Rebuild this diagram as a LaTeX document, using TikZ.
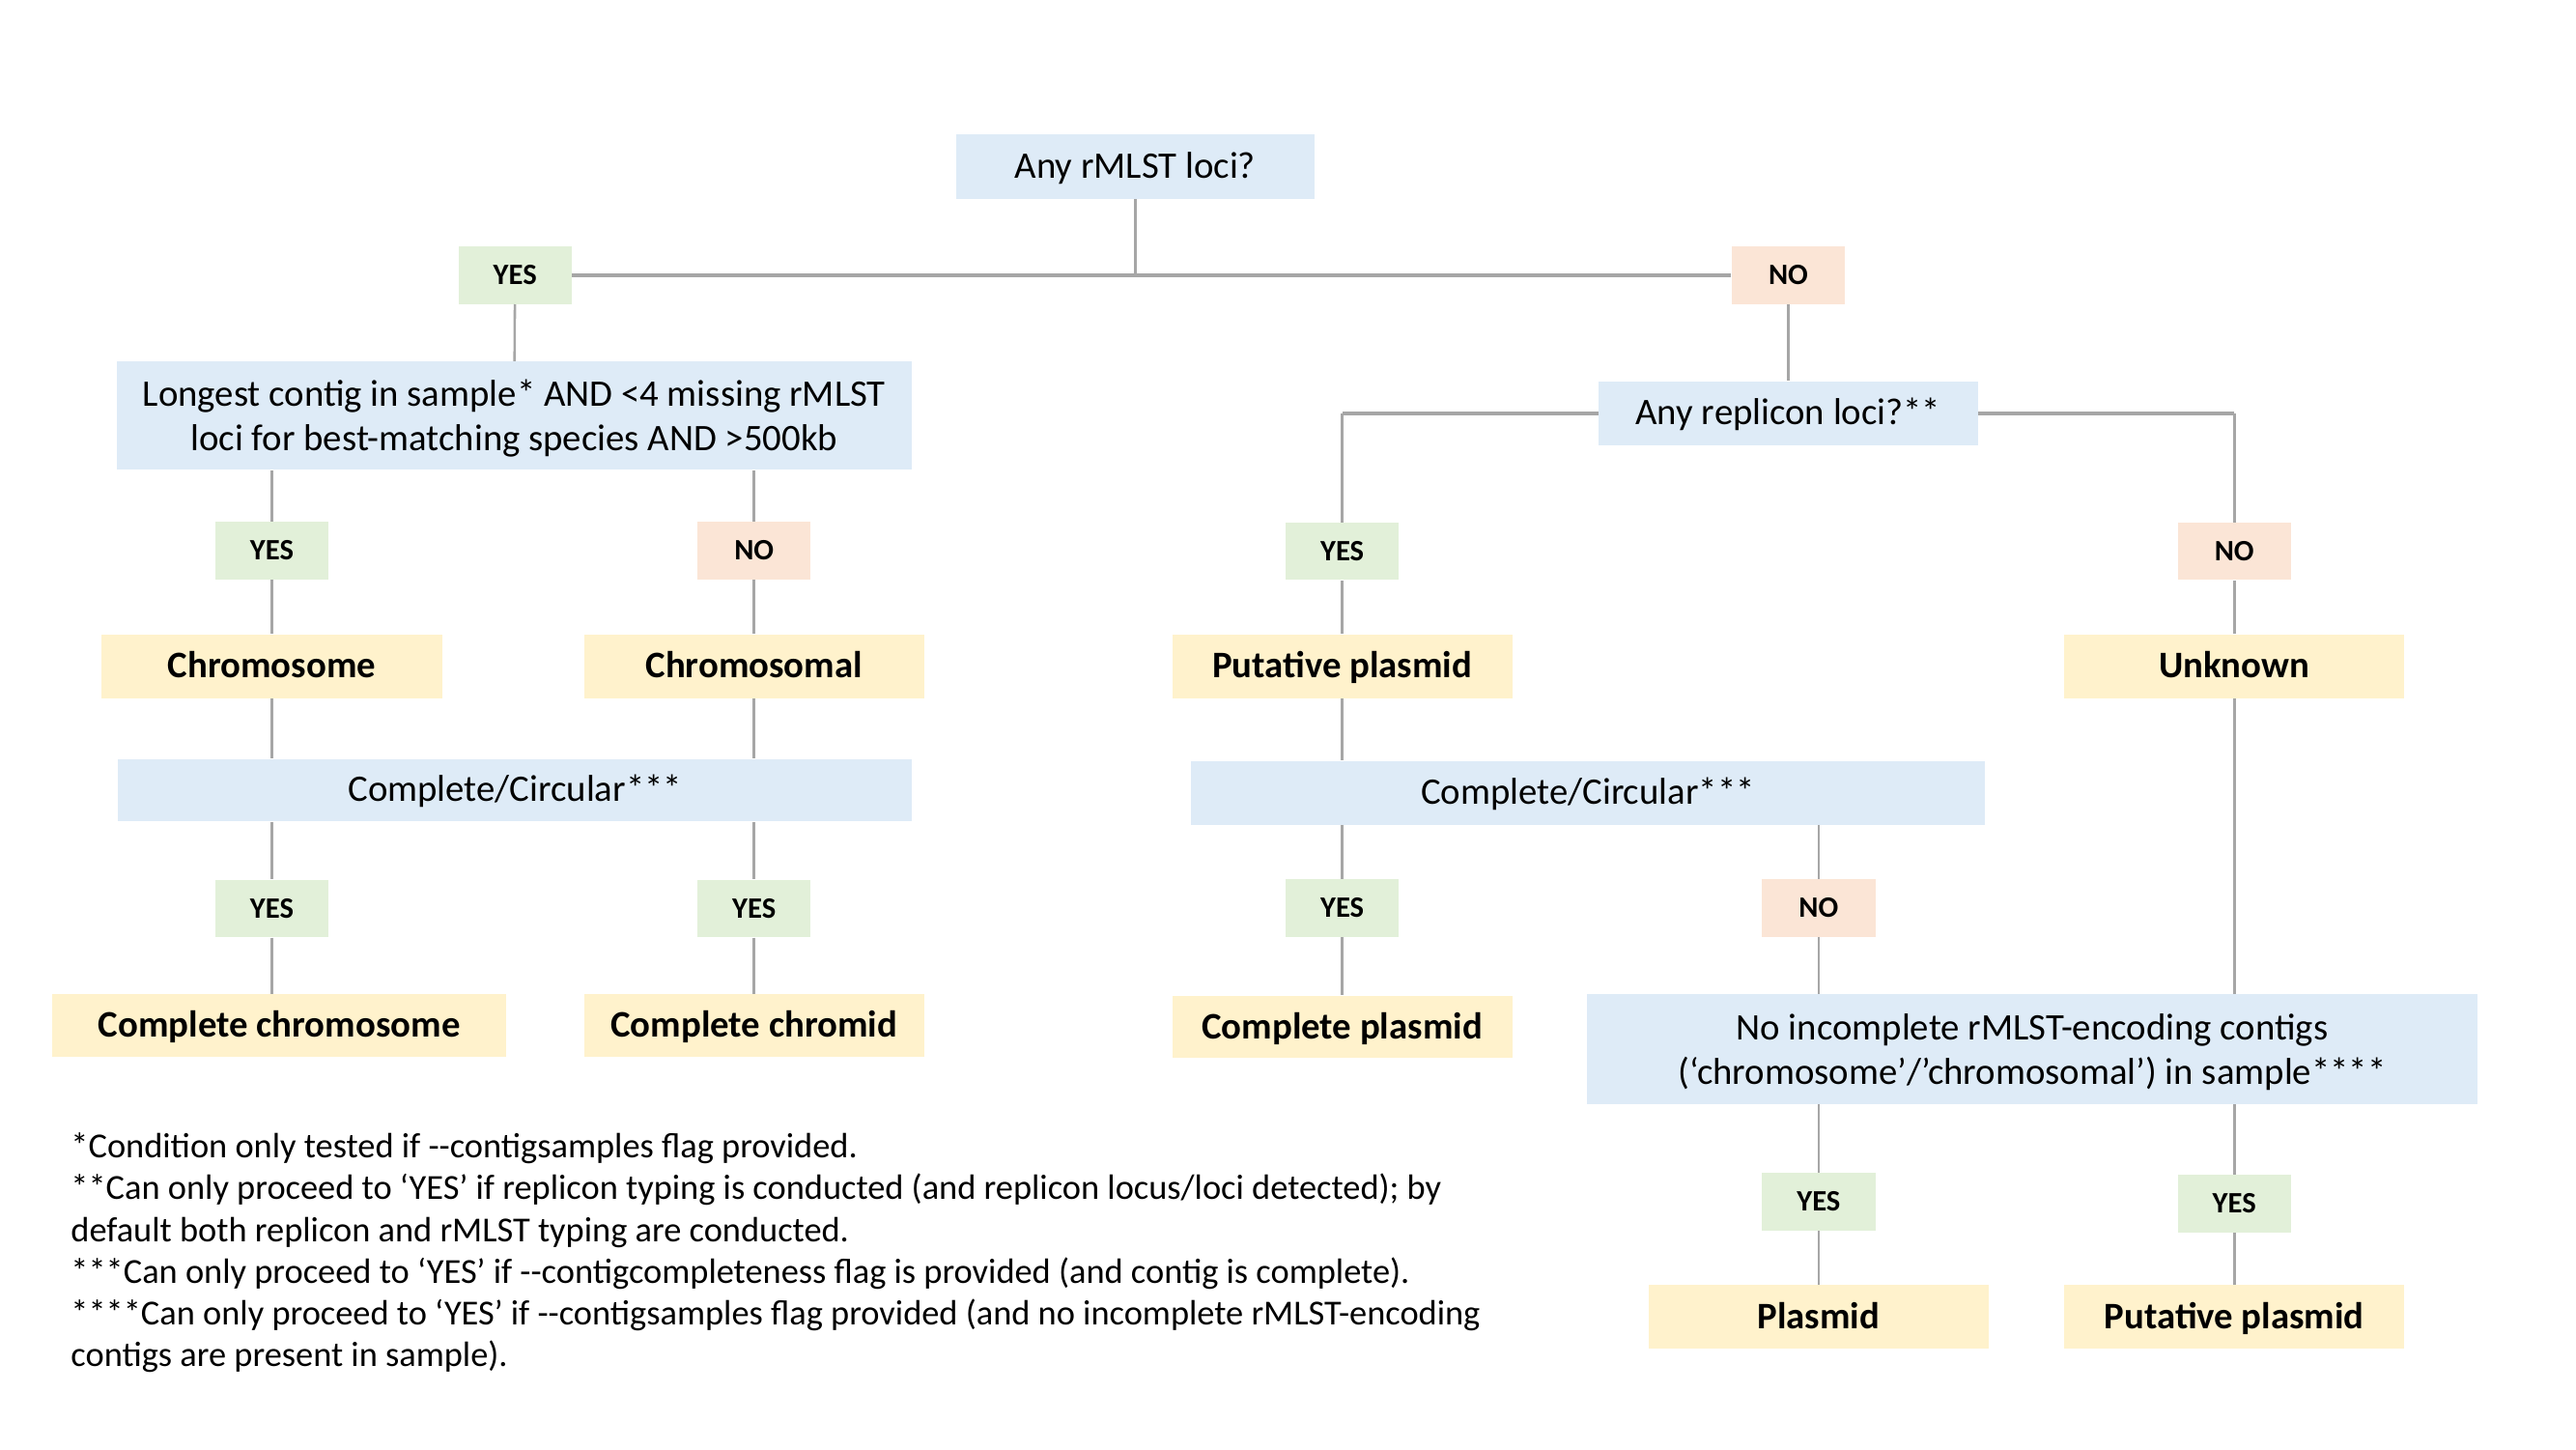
\documentclass[tikz,border=0pt]{standalone}
\usepackage{fontspec}
\setmainfont{Carlito}
\definecolor{qblue}{HTML}{DEEBF7}
\definecolor{ygreen}{HTML}{E2F0D9}
\definecolor{npeach}{HTML}{FBE5D6}
\definecolor{lyellow}{HTML}{FFF2CC}
\definecolor{lgray}{HTML}{A6A6A6}
\begin{document}
\begin{tikzpicture}[x=1pt, y=-1pt]
\tikzset{fcbox/.style={shape=rectangle, inner sep=0pt, align=center}}
\tikzset{fcquery/.style={fcbox, fill=qblue, text height=18pt, text depth=4.6pt, font=\fontsize{22.8}{27}\selectfont}}
\tikzset{fctwo/.style={fcquery, text height=48pt, text depth=5pt}}
\tikzset{fcyes/.style={fcbox, fill=ygreen, minimum width=69pt, minimum height=35pt, text height=14pt, text depth=2.7pt, font=\fontsize{18}{21}\selectfont\bfseries}}
\tikzset{fcno/.style={fcyes, fill=npeach}}
\tikzset{fcleaf/.style={fcbox, fill=lyellow, minimum width=207pt, minimum height=39pt, text height=19pt, text depth=4.6pt, font=\fontsize{22.8}{27}\selectfont\bfseries}}
\tikzset{fcline/.style={draw=lgray, line width=1.5pt}}
\tikzset{fctrunk/.style={draw=lgray, line width=2.5pt}}
\useasboundingbox (0,0) rectangle (1568,882);
% top question
\node (rmlst) [fcquery, minimum width=218pt, minimum height=39pt] at (691,101.5) {Any rMLST loci?};
\node (yesA) [fcyes] at (313.5,167.5) {YES};
\node (noA) [fcno] at (1088.5,167.5) {NO};
% left branch
\node (longest) [fctwo, minimum width=484pt, minimum height=66pt] at (313,253) {Longest contig in sample* AND <4 missing rMLST\\loci for best-matching species AND >500kb};
\node (yesC) [fcyes] at (165.5,335) {YES};
\node (noC) [fcno] at (459,335) {NO};
\node (chromo) [fcleaf] at (165.5,405.5) {Chromosome};
\node (chromal) [fcleaf] at (459,405.5) {Chromosomal};
\node (ccl) [fcquery, minimum width=483pt, minimum height=38pt] at (313.5,481) {Complete/Circular***};
\node (ycc1) [fcyes] at (165.5,553) {YES};
\node (ycc2) [fcyes] at (459,553) {YES};
\node (cchromo) [fcleaf, minimum width=276pt, minimum height=38pt] at (170,624) {Complete chromosome};
\node (cchromid) [fcleaf, minimum height=38pt] at (459,624) {Complete chromid};
% right branch
\node (replicon) [fcquery, minimum width=231pt, minimum height=39pt] at (1088.5,251.5) {Any replicon loci?**};
\node (yesB) [fcyes] at (817,335.5) {YES};
\node (noB) [fcno] at (1360,335.5) {NO};
\node (pplasmid) [fcleaf] at (817,405.5) {Putative plasmid};
\node (unknown) [fcleaf] at (1360,405.5) {Unknown};
\node (ccr) [fcquery, minimum width=483pt, minimum height=39pt] at (966.5,482.5) {Complete/Circular***};
\node (ycc3) [fcyes] at (817,552.5) {YES};
\node (nocc) [fcno] at (1107,552.5) {NO};
\node (cplasmid) [fcleaf, minimum height=38pt] at (817,625) {Complete plasmid};
\node (noinc) [fctwo, minimum width=542pt, minimum height=67pt] at (1237,638.5) {No incomplete rMLST-encoding contigs\\(‘chromosome’/’chromosomal’) in sample****};
\node (yinc1) [fcyes] at (1107,731.5) {YES};
\node (yinc2) [fcyes] at (1360,732.5) {YES};
\node (plasmid) [fcleaf] at (1107,801.5) {Plasmid};
\node (pplasmid2) [fcleaf] at (1360,801.5) {Putative plasmid};
% footnotes
\node (notes) [anchor=north west, inner sep=0pt, align=left, font=\fontsize{21.4}{25.3}\selectfont] at (43,689.5) {*Condition only tested if -{}-contigsamples flag provided.\\
**Can only proceed to ‘YES’ if replicon typing is conducted (and replicon locus/loci detected); by\\
default both replicon and rMLST typing are conducted.\\
***Can only proceed to ‘YES’ if -{}-contigcompleteness flag is provided (and contig is complete).\\
****Can only proceed to ‘YES’ if -{}-contigsamples flag provided (and no incomplete rMLST-encoding\\
contigs are present in sample).};
% connectors
\draw[fcline] (rmlst) -- (rmlst |- yesA);
\draw[fctrunk] (yesA) -- (noA);
\draw[fcline] (yesA) -- (longest);
\draw[fcline] (noA) -- (replicon);
\draw[fcline] (yesC |- longest.south) -- (yesC) -- (chromo);
\draw[fcline] (noC |- longest.south) -- (noC) -- (chromal);
\draw[fcline] (chromo) -- (chromo |- ccl.north);
\draw[fcline] (chromal) -- (chromal |- ccl.north);
\draw[fcline] (ycc1 |- ccl.south) -- (ycc1) -- (ycc1 |- cchromo.north);
\draw[fcline] (ycc2 |- ccl.south) -- (ycc2) -- (cchromid);
\draw[fctrunk] (replicon) -- (replicon -| yesB);
\draw[fcline] (replicon -| yesB) -- (yesB) -- (pplasmid);
\draw[fctrunk] (replicon) -- (replicon -| noB);
\draw[fcline] (replicon -| noB) -- (noB) -- (unknown);
\draw[fcline] (pplasmid) -- (pplasmid |- ccr.north);
\draw[fcline] (ycc3 |- ccr.south) -- (ycc3) -- (cplasmid);
\draw[fcline] (nocc |- ccr.south) -- (nocc) -- (nocc |- noinc.north);
\draw[fcline] (unknown) -- (unknown |- noinc.north);
\draw[fcline] (yinc1 |- noinc.south) -- (yinc1) -- (plasmid);
\draw[fcline] (yinc2 |- noinc.south) -- (yinc2) -- (pplasmid2);
\end{tikzpicture}
\end{document}
